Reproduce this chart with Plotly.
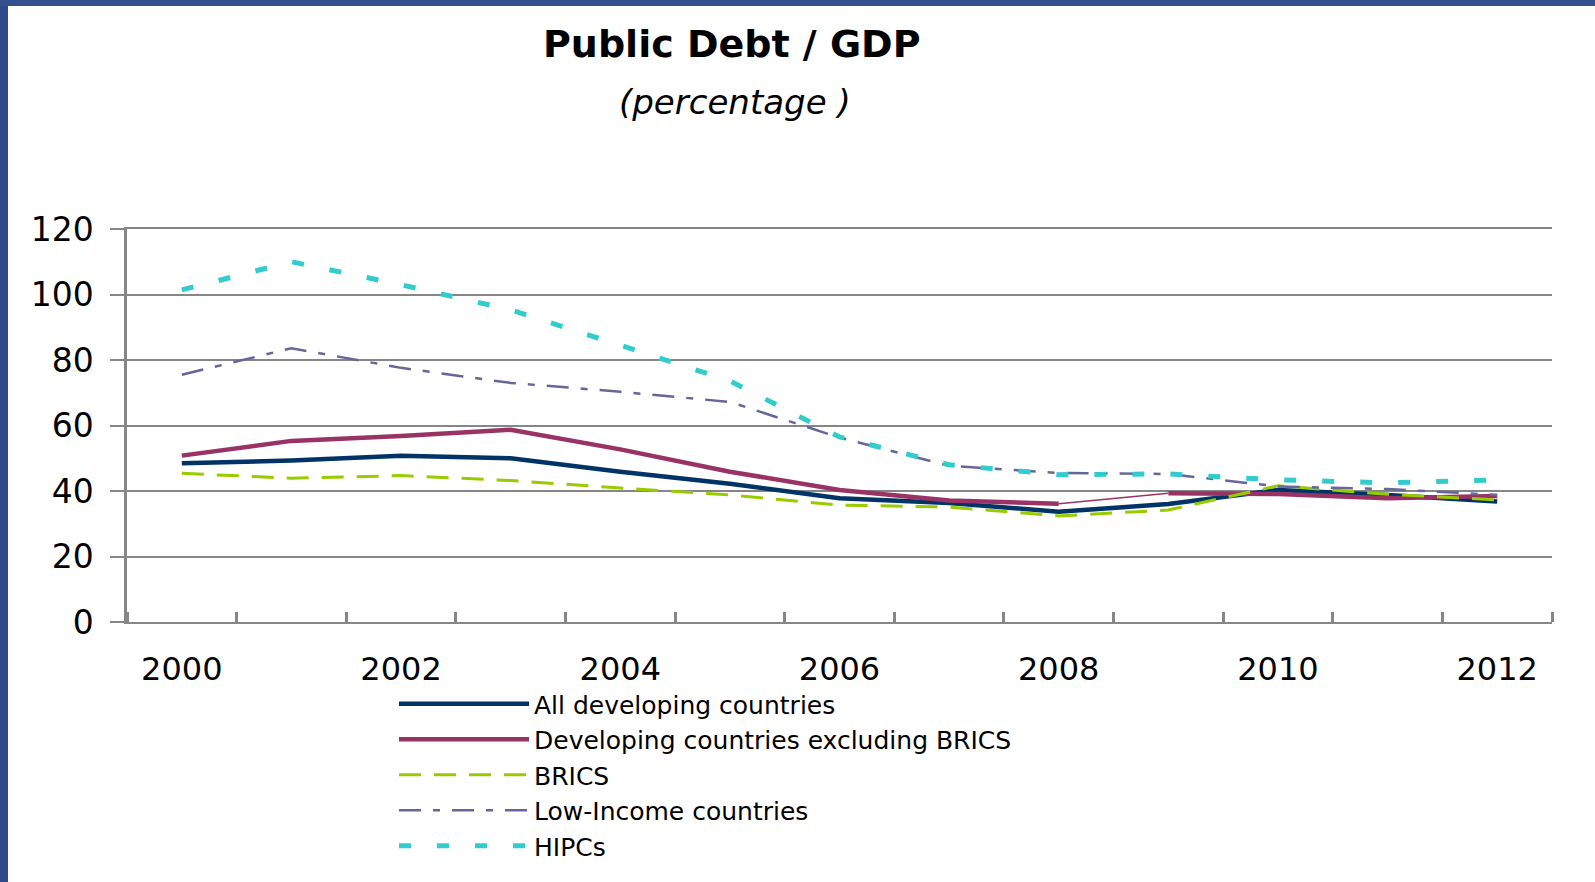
import plotly.graph_objects as go

years = list(range(2000, 2013))
all_dev = [48.5, 49.3, 50.8, 50.0, 45.9, 42.2, 37.8, 36.3, 33.7, 36.0, 40.3, 38.8, 36.8]
dev_ex_brics = [50.8, 55.3, 56.8, 58.7, 52.7, 45.9, 40.3, 37.1, 36.1, 39.3, 39.1, 37.8, 38.5]
brics = [45.4, 43.9, 44.7, 43.2, 40.9, 38.8, 35.7, 35.1, 32.4, 34.2, 41.6, 39.0, 37.3]
low_income = [75.5, 83.6, 77.6, 73.0, 70.3, 67.2, 56.3, 47.7, 45.5, 45.2, 41.4, 40.6, 38.8]
hipcs = [101.4, 110.0, 103.0, 95.3, 84.5, 73.6, 56.5, 48.0, 45.0, 45.2, 43.4, 42.5, 43.4]
x_tick_years = [2000, 2002, 2004, 2006, 2008, 2010, 2012]
y_ticks = [0, 20, 40, 60, 80, 100, 120]

NAVY = "#003366"
MAROON = "#993366"
GREEN = "#99CC00"
PURPLE = "#666699"
CYAN = "#33CCCC"
GRID = "#868686"
FONT = "DejaVu Sans"

fig = go.Figure()
fig.add_trace(go.Scatter(x=years, y=all_dev, mode="lines", name="All developing countries",
                         line=dict(color=NAVY, width=4.5)))
# developing excl. BRICS: thick segments with a thin connecting segment 2008-2009
fig.add_trace(go.Scatter(x=years[:9], y=dev_ex_brics[:9], mode="lines",
                         name="Developing countries excluding BRICS",
                         legendgroup="ex", line=dict(color=MAROON, width=4.5)))
fig.add_trace(go.Scatter(x=years[8:10], y=dev_ex_brics[8:10], mode="lines", showlegend=False,
                         legendgroup="ex", line=dict(color=MAROON, width=1.5)))
fig.add_trace(go.Scatter(x=years[9:], y=dev_ex_brics[9:], mode="lines", showlegend=False,
                         legendgroup="ex", line=dict(color=MAROON, width=4.5)))
fig.add_trace(go.Scatter(x=years, y=brics, mode="lines", name="BRICS",
                         line=dict(color=GREEN, width=3, dash="22px,13px")))
fig.add_trace(go.Scatter(x=years, y=low_income, mode="lines", name="Low-Income countries",
                         line=dict(color=PURPLE, width=2.5, dash="22px,12px,7px,12px")))
fig.add_trace(go.Scatter(x=years, y=hipcs, mode="lines", name="HIPCs",
                         line=dict(color=CYAN, width=5, dash="12px,26px")))

W, H = 1595, 882
ml, mr, mt, mb = 127, 43, 229, 260
pw, ph = W - ml - mr, H - mt - mb

def px_x(p):
    return (p - ml) / pw

def px_y(p):
    return (H - mb - p) / ph

shapes = [
    dict(type="rect", xref="paper", yref="paper", x0=px_x(0), x1=px_x(8), y0=px_y(H), y1=px_y(0),
         fillcolor="#2F4A8A", line=dict(width=0), layer="above"),
    dict(type="rect", xref="paper", yref="paper", x0=px_x(0), x1=px_x(W), y0=px_y(6), y1=px_y(0),
         fillcolor="#34508E", line=dict(width=0), layer="above"),
]

annotations = [
    dict(text="<b>Public Debt / GDP</b>", xref="paper", yref="paper", x=px_x(732), y=px_y(44),
         showarrow=False, font=dict(family=FONT, size=38, color="black"), xanchor="center", yanchor="middle"),
    dict(text="<i>(percentage )</i>", xref="paper", yref="paper", x=px_x(735), y=px_y(102),
         showarrow=False, font=dict(family=FONT, size=34, color="black"), xanchor="center", yanchor="middle"),
]

fig.update_layout(
    width=W, height=H,
    margin=dict(l=ml, r=mr, t=mt, b=mb),
    paper_bgcolor="white", plot_bgcolor="white",
    font=dict(family=FONT, color="black"),
    shapes=shapes, annotations=annotations,
    showlegend=True,
    legend=dict(x=px_x(394), y=px_y(869), xanchor="left", yanchor="bottom",
                font=dict(family=FONT, size=25, color="black"),
                itemwidth=130, tracegroupgap=0, bgcolor="rgba(0,0,0,0)", borderwidth=0),
)
fig.update_xaxes(
    range=[1999.5, 2012.5], tickvals=x_tick_years, ticktext=[str(y) for y in x_tick_years],
    ticks="", showgrid=False, showline=True, linecolor=GRID, linewidth=2, mirror=True,
    tickfont=dict(family=FONT, size=32, color="black"), ticklabelstandoff=18,
    minor=dict(tick0=1999.5, dtick=1, ticks="inside", ticklen=10, tickwidth=2.5, tickcolor=GRID, showgrid=False),
    zeroline=False,
)
fig.update_yaxes(
    range=[0, 120], tickvals=y_ticks, ticks="outside", ticklen=14, tickwidth=2, tickcolor=GRID,
    showgrid=True, gridcolor=GRID, gridwidth=2, showline=True, linecolor=GRID, linewidth=2.5,
    tickfont=dict(family=FONT, size=33, color="black"), ticklabelstandoff=10, zeroline=False,
)

fig.write_html("out.html")
